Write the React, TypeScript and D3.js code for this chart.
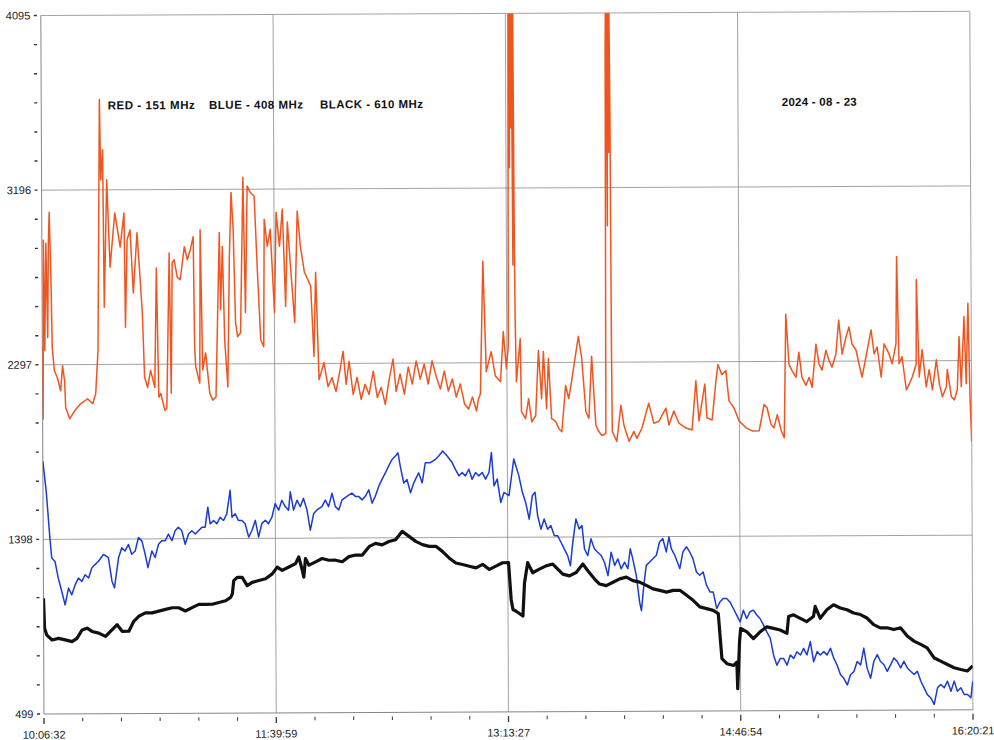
import React from "react";
import * as d3 from "d3";

// time axis: minutes after 10:06:32, last sample 16:20:21
const totalMinutes = 373.82;
const timeLabels = ["10:06:32", "11:39:59", "13:13:27", "14:46:54", "16:20:21"];
const valueLabels = [499, 1398, 2297, 3196, 4095];
const legendItems = ["RED - 151 MHz", "BLUE - 408 MHz", "BLACK - 610 MHz"];
const dateLabel = "2024 - 08 - 23";

// [minutes, level]
const red151: [number, number][] = [
  [0, 2395], [0.2, 2018], [0.6, 2938], [1.0, 2369], [1.6, 2922], [2.2, 2437], [2.6, 2922], [3.0, 3082],
  [3.6, 2731], [4.0, 2385], [4.8, 2266], [6.0, 2230], [7.3, 2163], [8.1, 2292], [8.9, 2214], [9.3, 2075],
  [10.9, 2018], [12.9, 2059], [15.3, 2095], [18.1, 2121], [20.2, 2095], [21.4, 2147], [22.4, 2369],
  [23.0, 3144], [23.4, 3661], [23.8, 3248], [24.6, 3403], [25.0, 2592], [26.2, 3248], [27.4, 2798],
  [29.4, 3077], [31.5, 2901], [33.1, 3077], [33.5, 2488], [34.3, 2938], [35.5, 2989], [36.7, 2664],
  [38.3, 2974], [39.5, 2731], [40.3, 2561], [41.1, 2230], [42.3, 2178], [43.5, 2266], [45.2, 2178],
  [46.0, 2793], [46.8, 2127], [47.6, 2147], [49.2, 2059], [50.0, 2070], [51.2, 2870], [51.8, 2147],
  [52.4, 2819], [53.2, 2834], [54.4, 2746], [55.6, 2731], [57.3, 2901], [58.5, 2834], [59.7, 2886],
  [60.9, 2953], [61.3, 2385], [61.7, 2282], [63.3, 2199], [63.7, 2989], [64.5, 2266], [65.7, 2354],
  [67.3, 2147], [68.5, 2111], [69.8, 2127], [71.4, 2974], [71.8, 2576], [72.6, 2901], [73.4, 2421],
  [74.6, 2178], [75.4, 2834], [76.2, 3180], [77.0, 2989], [77.8, 2509], [78.6, 2437], [79.8, 2457],
  [81.0, 3258], [81.8, 2561], [82.7, 3212], [83.9, 3180], [85.5, 3160], [86.7, 2767], [87.9, 2421],
  [89.1, 2385], [89.5, 3041], [90.7, 2901], [91.9, 2989], [93.5, 2561], [94.3, 3077], [95.6, 2901],
  [96.8, 3093], [98.0, 2592], [98.8, 3026], [100.0, 2798], [101.6, 2509], [102.8, 3082], [104.0, 2901],
  [105.6, 2767], [106.9, 2731], [108.1, 2695], [109.3, 2333], [110.1, 2767], [111.3, 2214], [113.3, 2302],
  [114.9, 2178], [116.5, 2225], [118.1, 2152], [119.8, 2266], [121.0, 2359], [122.2, 2189], [123.4, 2308],
  [125.0, 2137], [126.6, 2225], [128.2, 2111], [129.8, 2189], [131.4, 2137], [133.1, 2256], [134.7, 2121],
  [136.3, 2173], [137.9, 2085], [139.5, 2214], [141.1, 2318], [142.3, 2152], [143.9, 2241], [145.6, 2137],
  [147.2, 2277], [148.8, 2189], [150.4, 2308], [152.0, 2214], [153.6, 2292], [155.2, 2189], [156.8, 2308],
  [158.5, 2225], [160.1, 2163], [161.7, 2256], [163.3, 2152], [164.9, 2214], [166.5, 2121], [168.1, 2189],
  [169.8, 2085], [171.4, 2059], [173.0, 2121], [174.6, 2049], [175.4, 2111], [176.2, 2137], [177.4, 2819],
  [178.6, 2251], [180.6, 2354], [182.2, 2230], [184.3, 2199], [185.5, 2457], [186.7, 2266], [187.5, 2385],
  [188.0, 4300], [188.3, 3300], [188.6, 4300], [188.9, 3506], [189.2, 4300], [189.5, 2800], [189.8, 4300],
  [190.1, 3000], [190.3, 2524], [190.7, 2199],
  [192.3, 2421], [192.7, 2044], [194.3, 2008], [195.6, 2111], [196.8, 1992], [198.4, 2023], [199.6, 2359],
  [200.8, 2111], [201.6, 2354], [202.8, 2059], [203.6, 2318], [204.8, 2008], [206.5, 1992], [207.7, 1956],
  [208.9, 1940], [210.5, 2178], [211.7, 2111], [212.9, 2199], [214.5, 2333], [215.7, 2431], [217.0, 2318],
  [218.6, 2044], [219.8, 2008], [221.0, 2328], [222.6, 1972], [223.8, 1940], [225.0, 1920], [226.6, 1930],
  [227.0, 3904], [227.3, 4300], [227.6, 3000], [227.9, 4300], [228.2, 3377], [228.5, 4300], [228.8, 3609],
  [229.0, 2400], [229.2, 1940], [231.0, 1889],
  [232.7, 2075], [233.9, 1972], [235.9, 1889], [237.9, 1940], [239.1, 1904], [241.1, 1956], [243.9, 2085],
  [245.9, 1982], [248.0, 1992], [250.8, 2059], [252.0, 1972], [254.0, 2044], [256.0, 1982], [258.9, 1956],
  [261.3, 1946], [262.9, 2199], [264.1, 1992], [266.5, 2183], [267.3, 2008], [269.4, 1997], [271.0, 2199],
  [271.8, 2282], [273.4, 2230], [275.0, 2251], [276.2, 2095], [278.2, 2059], [280.2, 1992], [283.0, 1956],
  [285.5, 1940], [288.3, 1940], [290.3, 2075], [291.5, 2059], [293.1, 1972], [294.3, 1956], [295.6, 2023],
  [297.2, 1940], [298.4, 1904], [299.2, 2540], [300.4, 2282], [301.6, 2251], [303.2, 2214], [304.4, 2344],
  [305.6, 2214], [307.2, 2173], [308.5, 2214], [309.7, 2163], [311.3, 2385], [312.5, 2282], [313.7, 2251],
  [315.3, 2354], [316.5, 2302], [317.7, 2266], [319.3, 2333], [320.5, 2509], [321.8, 2333], [323.4, 2421],
  [324.6, 2473], [325.8, 2385], [327.4, 2354], [328.6, 2282], [329.8, 2214], [331.4, 2318], [333.5, 2457],
  [334.7, 2333], [335.9, 2369], [337.5, 2214], [338.7, 2385], [340.7, 2333], [341.9, 2282], [343.5, 2385],
  [343.9, 2834], [344.7, 2282], [345.9, 2318], [347.6, 2147], [348.8, 2178], [350.0, 2214], [351.6, 2282],
  [351.8, 2716], [352.8, 2214], [354.0, 2354], [355.6, 2163], [356.8, 2251], [358.1, 2147], [359.7, 2302],
  [360.9, 2178], [362.1, 2111], [363.7, 2163], [364.1, 2251], [365.7, 2111], [366.9, 2095], [368.1, 2147],
  [368.9, 2421], [369.7, 2163], [370.9, 2524], [371.7, 2178], [372.5, 2592], [373.2, 2111], [373.8, 1878],
];

const blue408: [number, number][] = [
  [0.0, 1801], [1.3, 1646], [2.7, 1405], [3.4, 1302], [4.7, 1284], [6.0, 1198], [7.4, 1129], [8.7, 1060],
  [10.1, 1147], [11.4, 1112], [12.8, 1164], [14.1, 1198], [15.5, 1181], [16.8, 1215], [18.2, 1198], [19.5, 1250],
  [20.8, 1267], [22.2, 1284], [24.2, 1319], [26.2, 1302], [27.6, 1181], [28.6, 1147], [30.3, 1302], [31.6, 1353],
  [32.9, 1336], [34.3, 1370], [35.6, 1319], [37.0, 1336], [38.3, 1405], [39.7, 1388], [41.0, 1319], [42.1, 1250],
  [43.7, 1336], [45.0, 1302], [46.4, 1370], [47.7, 1388], [49.1, 1388], [50.4, 1422], [51.8, 1388], [53.1, 1439],
  [54.4, 1457], [55.8, 1439], [57.1, 1370], [58.5, 1422], [59.8, 1439], [61.2, 1422], [62.5, 1439], [63.9, 1457],
  [65.2, 1457], [66.3, 1560], [67.2, 1474], [68.6, 1491], [69.9, 1474], [71.2, 1508], [72.6, 1491], [73.9, 1525],
  [75.3, 1646], [76.0, 1508], [77.3, 1525], [78.6, 1491], [80.0, 1491], [81.3, 1474], [82.7, 1405], [84.0, 1439],
  [85.4, 1491], [86.7, 1405], [88.0, 1474], [89.4, 1491], [90.7, 1474], [92.1, 1508], [93.4, 1577], [94.8, 1543],
  [96.1, 1594], [97.5, 1560], [98.8, 1543], [99.5, 1637], [100.8, 1543], [102.2, 1594], [103.5, 1560], [104.8, 1603],
  [106.2, 1543], [107.5, 1439], [108.9, 1525], [110.2, 1543], [112.2, 1560], [113.6, 1594], [114.9, 1560], [116.3, 1629],
  [117.6, 1560], [119.0, 1543], [120.3, 1594], [122.3, 1612], [124.3, 1629], [125.7, 1612], [127.0, 1612], [128.4, 1594],
  [129.7, 1612], [131.1, 1646], [132.4, 1577], [133.7, 1612], [135.1, 1663], [136.4, 1698], [137.8, 1732], [139.1, 1767],
  [140.5, 1801], [141.8, 1818], [142.9, 1835], [143.8, 1767], [145.2, 1680], [146.5, 1698], [147.9, 1629], [149.2, 1680],
  [151.2, 1732], [152.6, 1680], [153.9, 1784], [155.9, 1784], [158.0, 1801], [159.3, 1818], [160.9, 1844], [162.7, 1818],
  [164.7, 1784], [166.0, 1749], [167.4, 1715], [168.7, 1732], [170.0, 1715], [171.4, 1749], [172.7, 1698], [174.1, 1732],
  [175.4, 1715], [176.8, 1732], [178.1, 1698], [179.5, 1732], [180.5, 1835], [181.5, 1663], [182.8, 1698], [184.2, 1577],
  [185.5, 1629], [187.5, 1612], [189.5, 1801], [191.5, 1715], [192.9, 1629], [194.2, 1577], [195.6, 1491], [196.9, 1612],
  [198.0, 1629], [199.0, 1508], [200.3, 1439], [201.6, 1491], [203.0, 1439], [204.3, 1457], [205.7, 1405], [207.0, 1405],
  [208.4, 1370], [209.7, 1336], [211.0, 1302], [212.1, 1250], [213.1, 1370], [214.4, 1491], [215.7, 1439], [216.8, 1457],
  [217.8, 1336], [219.1, 1302], [220.4, 1388], [221.8, 1336], [223.1, 1319], [224.5, 1302], [225.8, 1267], [227.2, 1198],
  [228.5, 1319], [229.9, 1250], [231.2, 1284], [232.5, 1233], [233.9, 1267], [235.2, 1233], [236.2, 1336], [237.2, 1284],
  [238.6, 1198], [239.9, 1060], [240.6, 1017], [241.6, 1147], [242.6, 1250], [244.0, 1267], [245.3, 1284], [246.7, 1302],
  [248.0, 1370], [249.3, 1388], [250.7, 1319], [251.8, 1396], [252.7, 1336], [254.1, 1302], [256.1, 1233], [257.4, 1319],
  [258.8, 1345], [260.1, 1319], [261.4, 1284], [262.8, 1215], [264.1, 1198], [265.5, 1215], [266.8, 1147], [268.2, 1112],
  [269.5, 1112], [270.9, 1026], [272.2, 1060], [273.5, 1078], [274.9, 1078], [276.2, 1060], [277.6, 1026], [278.9, 992],
  [280.3, 957], [281.6, 1017], [282.9, 974], [284.3, 1009], [285.6, 1017], [287.0, 992], [288.3, 974], [289.7, 940],
  [291.0, 905], [292.4, 871], [293.7, 785], [295.0, 733], [296.4, 768], [297.7, 768], [299.1, 733], [300.4, 785],
  [301.8, 768], [303.1, 802], [304.5, 785], [305.8, 819], [307.1, 785], [308.5, 854], [309.8, 750], [311.2, 802],
  [312.5, 785], [313.9, 802], [315.2, 785], [316.6, 819], [317.9, 768], [319.2, 733], [320.6, 682], [321.9, 664],
  [323.3, 630], [324.6, 682], [326.0, 699], [327.3, 750], [328.7, 733], [330.0, 819], [331.3, 716], [332.7, 664],
  [334.0, 750], [335.4, 785], [336.7, 750], [338.1, 733], [339.4, 699], [340.8, 733], [342.1, 768], [343.4, 750],
  [344.8, 716], [346.1, 750], [347.5, 716], [348.8, 699], [350.2, 682], [351.5, 699], [352.9, 647], [354.2, 613],
  [355.5, 578], [356.9, 561], [358.2, 527], [359.6, 613], [360.9, 630], [362.3, 613], [363.6, 647], [365.0, 595],
  [366.3, 647], [367.6, 595], [369.0, 613], [370.3, 578], [371.7, 578], [373.0, 561], [373.8, 647],
];

const black610: [number, number][] = [
  [0.0, 1095], [0.4, 940], [1.3, 905], [3.4, 880], [6.0, 888], [8.7, 880], [11.4, 871], [13.4, 888],
  [15.5, 931], [17.5, 940], [19.5, 923], [22.2, 914], [24.9, 897], [26.9, 923], [29.6, 957], [31.6, 923],
  [34.3, 923], [36.3, 974], [38.3, 1000], [41.0, 1017], [43.7, 1017], [46.4, 1026], [49.1, 1035], [51.8, 1043],
  [54.4, 1043], [57.1, 1026], [59.8, 1043], [62.5, 1060], [65.2, 1060], [67.9, 1060], [70.6, 1069], [73.3, 1078],
  [75.3, 1095], [76.0, 1112], [76.6, 1181], [78.0, 1198], [80.0, 1198], [82.0, 1155], [84.0, 1172], [86.7, 1181],
  [89.4, 1190], [92.1, 1215], [94.1, 1250], [96.1, 1233], [98.8, 1250], [101.5, 1267], [102.8, 1302], [104.2, 1233],
  [104.8, 1198], [105.5, 1293], [106.9, 1259], [109.6, 1276], [112.2, 1293], [114.9, 1284], [117.6, 1284], [120.3, 1276],
  [123.0, 1302], [125.7, 1310], [128.4, 1310], [131.1, 1353], [133.7, 1370], [136.4, 1362], [139.1, 1379], [141.8, 1388],
  [144.5, 1431], [147.2, 1405], [149.9, 1379], [152.6, 1362], [155.3, 1353], [158.0, 1353], [160.6, 1327], [163.3, 1293],
  [166.0, 1267], [168.7, 1259], [171.4, 1250], [174.1, 1241], [176.8, 1259], [179.5, 1233], [182.1, 1250], [184.8, 1267],
  [187.2, 1267], [188.2, 1078], [188.9, 1026], [190.2, 1017], [192.9, 992], [193.6, 1164], [194.9, 1267], [196.9, 1215],
  [199.6, 1233], [202.3, 1250], [205.0, 1259], [207.0, 1233], [209.0, 1207], [211.7, 1198], [214.4, 1215], [217.1, 1259],
  [219.1, 1224], [221.8, 1181], [223.8, 1155], [226.5, 1147], [229.2, 1164], [231.9, 1181], [234.6, 1190], [237.2, 1172],
  [239.9, 1164], [242.6, 1147], [245.3, 1129], [248.0, 1121], [250.7, 1112], [253.4, 1121], [256.1, 1121], [258.8, 1095],
  [261.4, 1069], [264.1, 1035], [266.8, 1026], [269.5, 1017], [271.5, 1000], [272.9, 768], [274.9, 742], [277.6, 733],
  [278.9, 750], [279.2, 613], [280.0, 854], [280.5, 923], [283.0, 905], [285.6, 871], [288.3, 905], [291.0, 931],
  [293.7, 923], [296.4, 914], [299.1, 897], [299.8, 983], [301.8, 992], [304.5, 974], [307.1, 957], [309.8, 983],
  [310.5, 1035], [312.5, 974], [315.2, 1017], [317.9, 1043], [320.6, 1026], [323.3, 1017], [326.0, 1000], [328.7, 992],
  [331.3, 974], [334.0, 940], [336.7, 923], [339.4, 923], [342.1, 914], [344.8, 923], [347.5, 880], [350.2, 854],
  [352.9, 837], [355.5, 819], [358.2, 768], [360.9, 750], [363.6, 733], [366.3, 716], [369.0, 707], [371.7, 699],
  [373.8, 725],
];

const W = 994;
const H = 740;
const L = 42.4;
const R = 971.4;
const T = 13.4;
const B = 711.9;
const FONT = "'Liberation Sans', Arial, Helvetica, sans-serif";

export default function App() {
  const x = d3.scaleLinear().domain([0, totalMinutes]).range([L, R]);
  const y = d3.scaleLinear().domain([valueLabels[0], valueLabels[4]]).range([B, T]);

  const line = d3
    .line<[number, number]>()
    .x((d) => x(d[0]))
    .y((d) => y(d[1]));

  const majorStep = totalMinutes / 4;
  const xTicks = d3.range(25).map((i) => i * (totalMinutes / 24));
  const yStep = (valueLabels[4] - valueLabels[0]) / 24;
  const yTicks = d3.range(25).map((i) => valueLabels[0] + i * yStep);

  const grid = "#8c8c8c";

  return (
    <svg
      width={W}
      height={H}
      style={{ position: "absolute", left: 0, top: 0, background: "#fff" }}
    >
      <defs>
        <clipPath id="plot">
          <rect x={L} y={T} width={R - L} height={B - T} />
        </clipPath>
      </defs>
      <rect width={W} height={H} fill="#fff" />
      {/* the scan is tilted a little */}
      <g transform="rotate(-0.26 508 363)">
        {valueLabels.slice(1).map((v) => (
          <line key={"h" + v} x1={L} x2={R} y1={y(v)} y2={y(v)} stroke={grid} strokeWidth={0.8} />
        ))}
        {timeLabels.slice(1).map((_, i) => (
          <line
            key={"v" + i}
            x1={x((i + 1) * majorStep)}
            x2={x((i + 1) * majorStep)}
            y1={T}
            y2={B}
            stroke={grid}
            strokeWidth={0.8}
          />
        ))}
        <line x1={L} x2={L} y1={T} y2={B} stroke="#777" strokeWidth={0.9} />
        <line x1={L} x2={R} y1={B} y2={B} stroke="#777" strokeWidth={0.9} />

        {yTicks.map((v, i) => (
          <line key={"yt" + i} x1={L - 7} x2={L - 4} y1={y(v)} y2={y(v)} stroke="#333" strokeWidth={1.4} />
        ))}
        {xTicks.map((t, i) => (
          <line
            key={"xt" + i}
            x1={x(t)}
            x2={x(t)}
            y1={B + 4}
            y2={i % 6 === 0 ? B + 10 : B + 7.5}
            stroke="#333"
            strokeWidth={i % 6 === 0 ? 1.3 : 1}
          />
        ))}
        {valueLabels.map((v) => (
          <text
            key={"yl" + v}
            x={L - 10.5}
            y={y(v)}
            dy="0.35em"
            textAnchor="end"
            fontFamily={FONT}
            fontSize={11}
            fill="#222"
          >
            {v}
          </text>
        ))}
        {timeLabels.map((s, i) => (
          <text
            key={"xl" + i}
            x={x(i * majorStep)}
            y={736.5}
            textAnchor="middle"
            fontFamily={FONT}
            fontSize={11}
            fill="#222"
          >
            {s}
          </text>
        ))}

        <g clipPath="url(#plot)" fill="none" strokeLinejoin="round">
          <path d={line(red151) || ""} stroke="#f05520" strokeWidth={1.5} />
          <path d={line(blue408) || ""} stroke="#1a3cd2" strokeWidth={1.5} />
          <path d={line(black610) || ""} stroke="#111" strokeWidth={3.2} />
        </g>

        {legendItems.map((s, i) => (
          <text
            key={"lg" + i}
            x={[108.9, 210.2, 321.2][i]}
            y={107.6}
            textLength={[87, 94, 103][i]}
            lengthAdjust="spacing"
            fontFamily={FONT}
            fontSize={11.5}
            fontWeight="bold"
            fill="#111"
          >
            {s}
          </text>
        ))}
        <text
          x={782.9}
          y={107.2}
          textLength={75}
          lengthAdjust="spacing"
          fontFamily={FONT}
          fontSize={11.5}
          fontWeight="bold"
          fill="#111"
        >
          {dateLabel}
        </text>
      </g>
    </svg>
  );
}
